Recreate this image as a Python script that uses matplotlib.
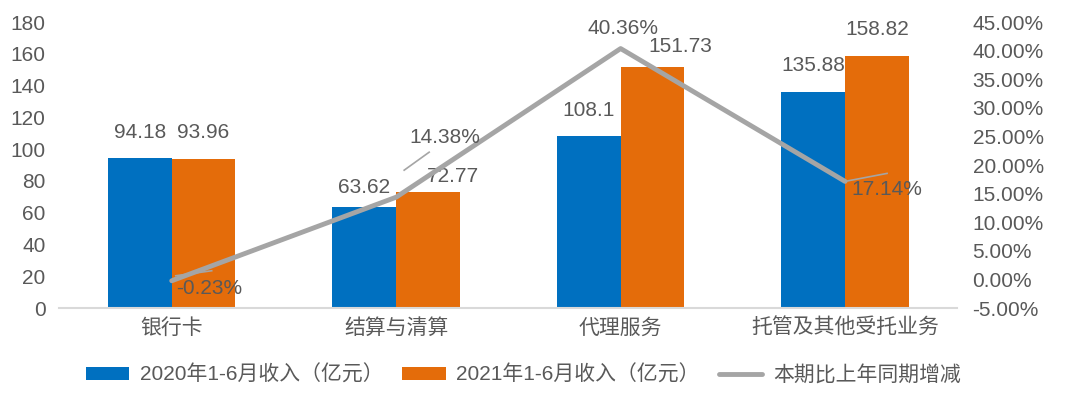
import matplotlib
matplotlib.use("Agg")
from matplotlib import pyplot as plt
import numpy as np

plt.rcParams['font.family'] = ['Liberation Sans', 'Noto Sans CJK SC', 'DejaVu Sans']

categories = ["银行卡", "结算与清算", "代理服务", "托管及其他受托业务"]
income_2020 = [94.18, 63.62, 108.1, 135.88]
income_2021 = [93.96, 72.77, 151.73, 158.82]
growth = [-0.23, 14.38, 40.36, 17.14]  # %

label_2020 = "2020年1-6月收入（亿元）"
label_2021 = "2021年1-6月收入（亿元）"
label_growth = "本期比上年同期增减"

blue = '#0070C0'
orange = '#E46C0A'
grey = '#A5A5A5'
txt = '#595959'
fs = 15

fig = plt.figure(figsize=(10.72, 3.98), dpi=100)
ax1 = fig.add_axes([0.0555, 0.226, 0.8375, 0.7187])
ax2 = ax1.twinx()

ax1.set_xlim(-0.5, len(categories) - 0.5)
ax1.set_ylim(0, 180)
ax1.set_yticks(np.arange(0, 181, 20))
ax2.set_ylim(-5, 45)
ax2.set_yticks(np.arange(-5, 46, 5))
ax2.set_yticklabels([f"{v:.2f}%" for v in np.arange(-5, 46, 5)])

x = np.arange(len(categories))
w = 0.284
ax1.bar(x - w/2, income_2020, w, color=blue, label=label_2020)
ax1.bar(x + w/2, income_2021, w, color=orange, label=label_2021)

# bar value labels, a few were moved by hand in the original (pixels)
nudge1 = [(0, 0), (0, -7), (0, 0), (0, 0)]
nudge2 = [(0, 0), (25, -10), (28, -6), (0, 0)]
for i in range(len(x)):
    ax1.annotate(f"{income_2020[i]:g}", (x[i] - w/2, income_2020[i]),
                 xytext=(nudge1[i][0] * 0.72, 12 + nudge1[i][1] * 0.72),
                 textcoords='offset points', ha='center', va='bottom', fontsize=fs, color=txt)
    ax1.annotate(f"{income_2021[i]:g}", (x[i] + w/2, income_2021[i]),
                 xytext=(nudge2[i][0] * 0.72, 12 + nudge2[i][1] * 0.72),
                 textcoords='offset points', ha='center', va='bottom', fontsize=fs, color=txt)

ax2.plot(x, growth, color=grey, lw=3.5, label=label_growth, solid_capstyle='round', zorder=5)

# growth labels (pixel offsets)
goffs = [(37, -8), (49, 60), (2, 20), (42, -8)]
for i in range(len(x)):
    dx, dy = goffs[i]
    ax2.annotate(f"{growth[i]:.2f}%", (x[i], growth[i]), xytext=(dx * 0.72, dy * 0.72),
                 textcoords='offset points', ha='center', va='center', fontsize=fs, color=txt, zorder=6)

# small leader lines
leaders = {0: ((4, 5), (40, 10)), 1: ((8, 27), (33, 45)), 3: ((0, 0), (42, 8))}
inv = ax2.transData.inverted()
for i, (a, b) in leaders.items():
    p0 = ax2.transData.transform((x[i], growth[i]))
    q0 = inv.transform((p0[0] + a[0], p0[1] + a[1]))
    q1 = inv.transform((p0[0] + b[0], p0[1] + b[1]))
    ax2.plot([q0[0], q1[0]], [q0[1], q1[1]], color=grey, lw=1.2, zorder=4)

ax1.set_xticks(x)
ax1.set_xticklabels(categories)
for a in (ax1, ax2):
    for s in a.spines.values():
        s.set_visible(False)
    a.tick_params(length=0, labelsize=fs, colors=txt)
ax1.spines['bottom'].set_visible(True)
ax1.spines['bottom'].set_color('#D9D9D9')
ax1.spines['bottom'].set_linewidth(1.5)
ax1.tick_params(axis='x', pad=7, labelsize=15)
ax1.tick_params(axis='y', pad=10)
ax2.tick_params(axis='y', pad=11)

h1, l1 = ax1.get_legend_handles_labels()
h2, l2 = ax2.get_legend_handles_labels()
fig.legend(h1 + h2, l1 + l2, loc='center', bbox_to_anchor=(0.488, 0.058), ncol=3, frameon=False,
           fontsize=fs, labelcolor=txt, handlelength=2.1, handleheight=0.6, columnspacing=0.9, handletextpad=0.5)

fig.savefig("out.png", dpi=100)
